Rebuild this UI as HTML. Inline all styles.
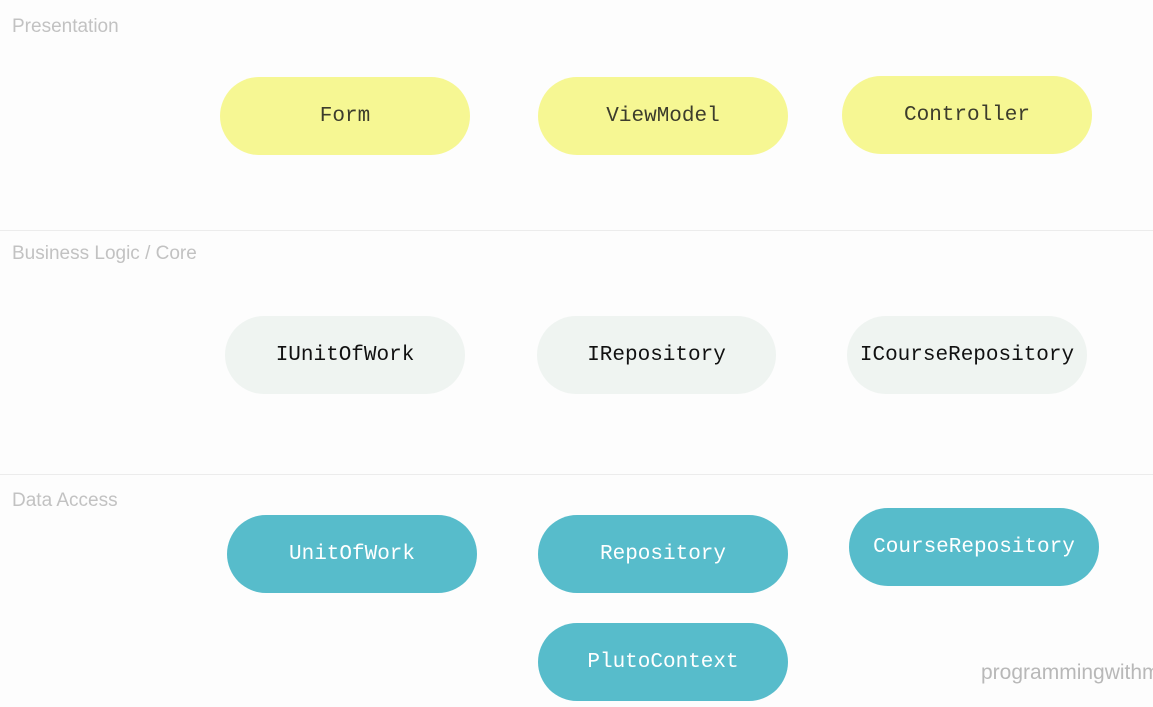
<!DOCTYPE html>
<html><head><style>
body{margin:0;width:1153px;height:707px;background:#fdfdfd;position:relative;overflow:hidden;font-family:"Liberation Sans",sans-serif}
.l{position:absolute;left:12px;color:#c2c2c2;font-size:19px}
.h{position:absolute;left:0;width:1153px;height:1px;background:#ececec}
.p{position:absolute;height:78px;border-radius:39px;display:flex;align-items:center;justify-content:center;font-family:"Liberation Mono",monospace;font-size:21px}
.y{background:#f6f793;color:#3c3c2c}
.g{background:#eff4f1;color:#111}
.t{background:#57bccb;color:#fff}
.wc{position:absolute;left:981px;top:661px;width:172px;height:34px;overflow:hidden}
.w{color:#b8b8b8;font-size:21px;white-space:nowrap}
</style></head><body>
<div class="l" style="top:16px">Presentation</div>
<div class="h" style="top:230px"></div>
<div class="l" style="top:243px">Business Logic / Core</div>
<div class="h" style="top:474px"></div>
<div class="l" style="top:490px">Data Access</div>
<div class="p y" style="left:220px;top:77px;width:250px">Form</div>
<div class="p y" style="left:538px;top:77px;width:250px">ViewModel</div>
<div class="p y" style="left:842px;top:76px;width:250px">Controller</div>
<div class="p g" style="left:225px;top:316px;width:240px">IUnitOfWork</div>
<div class="p g" style="left:537px;top:316px;width:239px">IRepository</div>
<div class="p g" style="left:847px;top:316px;width:240px">ICourseRepository</div>
<div class="p t" style="left:227px;top:515px;width:250px">UnitOfWork</div>
<div class="p t" style="left:538px;top:515px;width:250px">Repository</div>
<div class="p t" style="left:849px;top:508px;width:250px">CourseRepository</div>
<div class="p t" style="left:538px;top:623px;width:250px">PlutoContext</div>
<div class="wc"><div class="w">programmingwithmosh.com</div></div>
</body></html>
